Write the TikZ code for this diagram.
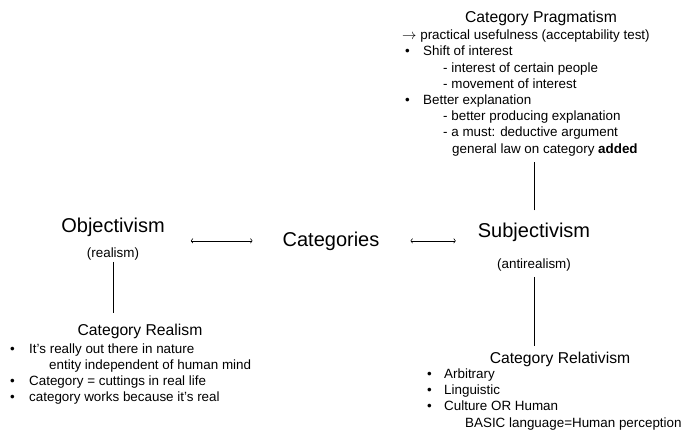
\documentclass[tikz,border=0pt]{standalone}
\usepackage{fontspec}
\setmainfont{Liberation Sans}
\usetikzlibrary{arrows.meta,positioning}
\newcommand{\itm}[2]{\makebox[#1][l]{\textbullet}#2}
\tikzset{
  big/.style   = {font=\fontsize{20}{24}\selectfont, inner sep=0pt},
  head/.style  = {font=\fontsize{15.7}{19}\selectfont, inner sep=0pt},
  note/.style  = {font=\fontsize{13.4}{16.2}\selectfont, inner sep=0pt},
  list/.style  = {note, align=left, anchor=base west},
  link/.style  = {line width=0.6pt},
  dbl/.style   = {{To[length=2.2pt,width=5pt]}-{To[length=2.2pt,width=5pt]}, line width=0.6pt},
}
\begin{document}
\begin{tikzpicture}[x=1pt,y=-1pt]
  \useasboundingbox (0,0) rectangle (684,433);
  % middle row
  \node[big, anchor=base] (obj) at (113,232) {Objectivism};
  \node[note, anchor=base] (real) at (113,257) {(realism)};
  \node[big, anchor=base] (cat) at (331,246) {Categories};
  \node[big, anchor=base] (subj) at (534,237) {Subjectivism};
  \node[note, anchor=base] (anti) at (534,268) {(antirealism)};
  \draw[dbl] ([xshift=26pt]obj.east |- cat) -- ([xshift=-30pt]cat.west);
  \draw[dbl] ([xshift=31pt]cat.east) -- ([xshift=-22pt]subj.west |- cat);
  % pragmatism (base = last line)
  \node[head, anchor=base] (prag) at (541,23) {Category Pragmatism};
  \node[list] (pragl) at (402,153) {$\rightarrow$ practical usefulness (acceptability test)\\
    \hspace*{3pt}\itm{18pt}{Shift of interest}\\
    \hspace*{41pt}- interest of certain people\\
    \hspace*{41pt}- movement of interest\\
    \hspace*{3pt}\itm{18pt}{Better explanation}\\
    \hspace*{41pt}- better producing explanation\\
    \hspace*{41pt}- a must: deductive argument\\
    \hspace*{50pt}general law on category \textbf{added}};
  \draw[link] ([yshift=12pt]subj.north) -- ([yshift=-6pt]subj.north |- pragl.south);
  % realism
  \node[head, anchor=base] (creal) at (140,335) {Category Realism};
  \node[list] (reall) at (10,401.7) {\itm{19pt}{It's really out there in nature}\\
    \hspace*{39pt}entity independent of human mind\\
    \itm{19pt}{Category = cuttings in real life}\\
    \itm{19pt}{category works because it's real}};
  \draw[link] ([yshift=-2pt]real.south) -- ([yshift=10pt]real.south |- creal.north);
  % relativism
  \node[head, anchor=base] (crel) at (560,363) {Category Relativism};
  \node[list] (rell) at (427,427) {\itm{17pt}{Arbitrary}\\
    \itm{17pt}{Linguistic}\\
    \itm{17pt}{Culture OR Human}\\
    \hspace*{38pt}BASIC language=Human perception};
  \draw[link] ([yshift=-6pt]anti.south) -- ([yshift=5pt]anti.south |- crel.north);
\end{tikzpicture}
\end{document}
